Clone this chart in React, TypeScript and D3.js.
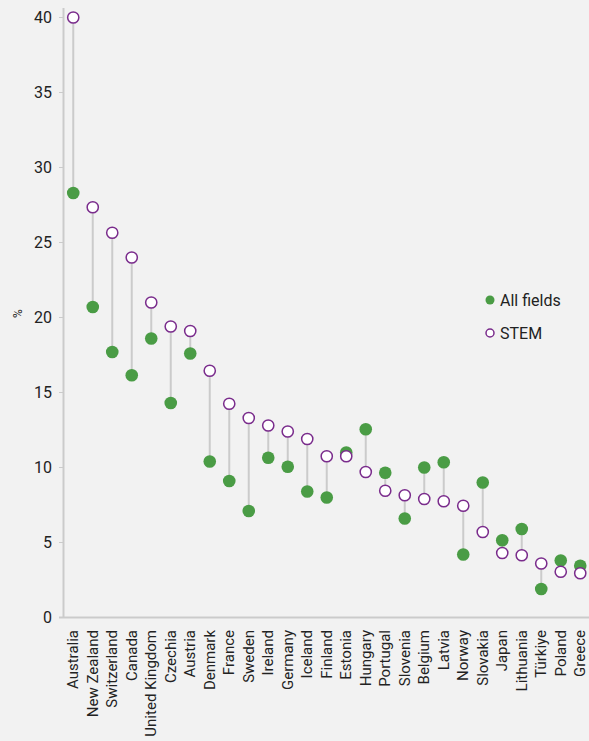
import { useEffect, useRef } from 'react';
import * as d3 from 'd3';

const countries = [
  'Australia', 'New Zealand', 'Switzerland', 'Canada', 'United Kingdom', 'Czechia', 'Austria',
  'Denmark', 'France', 'Sweden', 'Ireland', 'Germany', 'Iceland', 'Finland', 'Estonia',
  'Hungary', 'Portugal', 'Slovenia', 'Belgium', 'Latvia', 'Norway', 'Slovakia', 'Japan',
  'Lithuania', 'Türkiye', 'Poland', 'Greece',
];

const allFields = [
  28.3, 20.7, 17.7, 16.15, 18.6, 14.3, 17.6, 10.4, 9.1, 7.1, 10.65, 10.05, 8.4, 8.0, 11.0,
  12.55, 9.65, 6.6, 10.0, 10.35, 4.2, 9.0, 5.15, 5.9, 1.9, 3.8, 3.45,
];

const stem = [
  40.0, 27.35, 25.65, 24.0, 21.0, 19.4, 19.1, 16.45, 14.25, 13.3, 12.8, 12.4, 11.9, 10.75, 10.75,
  9.7, 8.45, 8.15, 7.9, 7.75, 7.45, 5.7, 4.3, 4.15, 3.6, 3.05, 2.95,
];

const yTicks = [0, 5, 10, 15, 20, 25, 30, 35, 40];

const W = 589;
const H = 741;
const FONT = 'Roboto, "Noto Sans", sans-serif';
const GREEN = '#4a9c45';
const PURPLE = '#7a2c8c';
const GREY = '#cbcbcb';

export default function App() {
  const svgRef = useRef<SVGSVGElement>(null);

  useEffect(() => {
    if (!svgRef.current) return;
    const svg = d3.select(svgRef.current);
    svg.selectAll('*').remove();

    svg.append('rect').attr('width', W).attr('height', H).attr('fill', '#f2f2f2');

    const left = 63.5;
    const x = d3.scaleBand<string>().domain(countries).range([left, 590]);
    const y = d3.scaleLinear().domain([0, 40]).range([617.5, 17.5]);
    const cx = (c: string) => (x(c) ?? 0) + x.bandwidth() / 2;

    // axes
    svg.append('line')
      .attr('x1', left).attr('x2', left).attr('y1', 8).attr('y2', y(0))
      .attr('stroke', GREY).attr('stroke-width', 2);
    svg.append('line')
      .attr('x1', 59).attr('x2', W).attr('y1', y(0)).attr('y2', y(0))
      .attr('stroke', GREY).attr('stroke-width', 2);

    yTicks.forEach(t => {
      svg.append('line')
        .attr('x1', 59).attr('x2', left).attr('y1', y(t)).attr('y2', y(t))
        .attr('stroke', GREY).attr('stroke-width', 1);
      svg.append('text')
        .attr('x', 52).attr('y', y(t))
        .attr('text-anchor', 'end').attr('dominant-baseline', 'central')
        .attr('font-size', '16px').attr('font-family', FONT)
        .attr('fill', '#222')
        .text(t);
    });

    svg.append('text')
      .attr('transform', `translate(18, ${y(20) - 4}) rotate(-90)`)
      .attr('text-anchor', 'middle').attr('dominant-baseline', 'central')
      .attr('font-size', '12px').attr('font-family', FONT)
      .attr('fill', '#222')
      .text('%');

    // country labels
    countries.forEach(c => {
      svg.append('text')
        .attr('transform', `translate(${cx(c)}, 630) rotate(-90)`)
        .attr('text-anchor', 'end').attr('dominant-baseline', 'central')
        .attr('font-size', '15px').attr('font-family', FONT)
        .attr('fill', '#222')
        .text(c);
    });

    // connectors
    countries.forEach((c, i) => {
      svg.append('line')
        .attr('x1', cx(c)).attr('x2', cx(c))
        .attr('y1', y(allFields[i])).attr('y2', y(stem[i]))
        .attr('stroke', GREY).attr('stroke-width', 2);
    });

    countries.forEach((c, i) => {
      svg.append('circle')
        .attr('cx', cx(c)).attr('cy', y(allFields[i])).attr('r', 6.3)
        .attr('fill', GREEN);
    });
    countries.forEach((c, i) => {
      svg.append('circle')
        .attr('cx', cx(c)).attr('cy', y(stem[i])).attr('r', 5.6)
        .attr('fill', '#fff').attr('stroke', PURPLE).attr('stroke-width', 1.5);
    });

    // legend
    const lg = svg.append('g').attr('transform', 'translate(490, 300)');
    lg.append('circle').attr('cx', 0).attr('cy', 0).attr('r', 4.5).attr('fill', GREEN);
    lg.append('text')
      .attr('x', 10).attr('y', 0).attr('dominant-baseline', 'central')
      .attr('font-size', '16px').attr('font-family', FONT).attr('fill', '#222')
      .text('All fields');
    lg.append('circle').attr('cx', 0).attr('cy', 33).attr('r', 4)
      .attr('fill', '#fff').attr('stroke', PURPLE).attr('stroke-width', 1.5);
    lg.append('text')
      .attr('x', 10).attr('y', 33).attr('dominant-baseline', 'central')
      .attr('font-size', '16px').attr('font-family', FONT).attr('fill', '#222')
      .text('STEM');
  }, []);

  return (
    <svg ref={svgRef} width={W} height={H} style={{ position: 'absolute', left: 0, top: 0 }} />
  );
}
